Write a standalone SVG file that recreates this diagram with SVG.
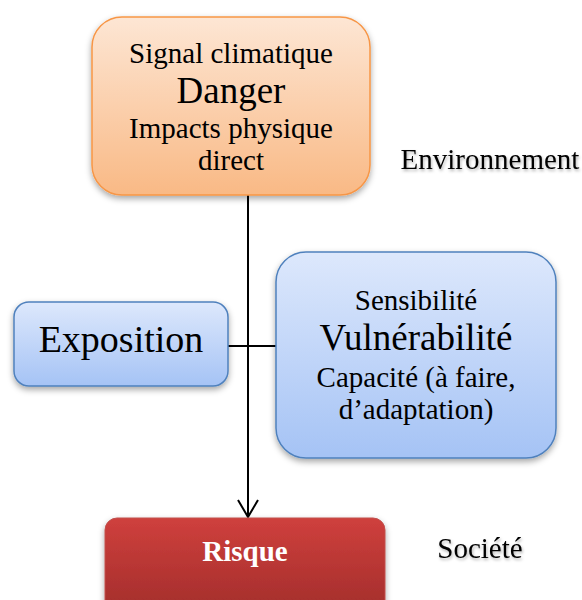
<svg xmlns="http://www.w3.org/2000/svg" width="582" height="600" viewBox="0 0 582 600">
<defs>
<linearGradient id="gOrange" x1="0" y1="0" x2="0" y2="1"><stop offset="0" stop-color="#fde6d4"/><stop offset="1" stop-color="#f9b985"/></linearGradient>
<linearGradient id="gBlue" x1="0" y1="0" x2="0" y2="1"><stop offset="0" stop-color="#dde8fc"/><stop offset="1" stop-color="#a5c3f5"/></linearGradient>
<linearGradient id="gRed" x1="0" y1="0" x2="0" y2="1"><stop offset="0" stop-color="#cf403d"/><stop offset="1" stop-color="#a02c2a"/></linearGradient>
<filter id="sh" x="-20%" y="-20%" width="140%" height="150%"><feDropShadow dx="0" dy="3" stdDeviation="3" flood-color="#000" flood-opacity="0.35"/></filter>
<filter id="tsh" x="-10%" y="-30%" width="120%" height="160%"><feDropShadow dx="1" dy="2" stdDeviation="1.5" flood-color="#000" flood-opacity="0.3"/></filter>
<marker id="arr" viewBox="0 0 20 24" refX="18" refY="12" markerWidth="20" markerHeight="24" markerUnits="userSpaceOnUse" orient="auto">
<path d="M1,2 L18,12 L1,22" fill="none" stroke="#000" stroke-width="2"/>
</marker>
</defs>
<style>
text{font-family:"Liberation Serif","Times New Roman",serif;fill:#000;text-anchor:middle}
.s{font-size:29px}
.l{font-size:37px}
.c{stroke:#000;stroke-width:2;fill:none}
</style>
<g id="connectors">
<line class="c" x1="248" y1="195" x2="248" y2="517" marker-end="url(#arr)"/>
<line class="c" x1="228" y1="346" x2="276" y2="346"/>
</g>
<g id="danger">
<rect x="92" y="17" width="278" height="178" rx="30" fill="url(#gOrange)" stroke="#f79646" stroke-width="1.5" filter="url(#sh)"/>
<text class="s" x="231" y="63">Signal climatique</text>
<text class="l" x="231" y="103">Danger</text>
<text class="s" x="231" y="138">Impacts physique</text>
<text class="s" x="231" y="170">direct</text>
</g>
<g id="exposition">
<rect x="14" y="302" width="214" height="84" rx="15" fill="url(#gBlue)" stroke="#4f81bd" stroke-width="1.5" filter="url(#sh)"/>
<text x="121" y="352" style="font-size:38px">Exposition</text>
</g>
<g id="vulnerabilite">
<rect x="276" y="252" width="280" height="206" rx="30" fill="url(#gBlue)" stroke="#4f81bd" stroke-width="1.5" filter="url(#sh)"/>
<text class="s" x="416" y="310">Sensibilité</text>
<text class="l" x="416" y="350">Vulnérabilité</text>
<text class="s" x="416" y="387">Capacité (à faire,</text>
<text class="s" x="416" y="419">d’adaptation)</text>
</g>
<g id="risque">
<rect x="105" y="518" width="280" height="100" rx="12" fill="url(#gRed)" stroke="#c0504d" stroke-width="1" filter="url(#sh)"/>
<text x="245" y="561" style="font-size:29px;font-weight:bold;fill:#fff">Risque</text>
</g>
<g id="labels">
<text class="s" x="490" y="169" filter="url(#tsh)">Environnement</text>
<text class="s" x="480" y="558" filter="url(#tsh)">Société</text>
</g>
</svg>
